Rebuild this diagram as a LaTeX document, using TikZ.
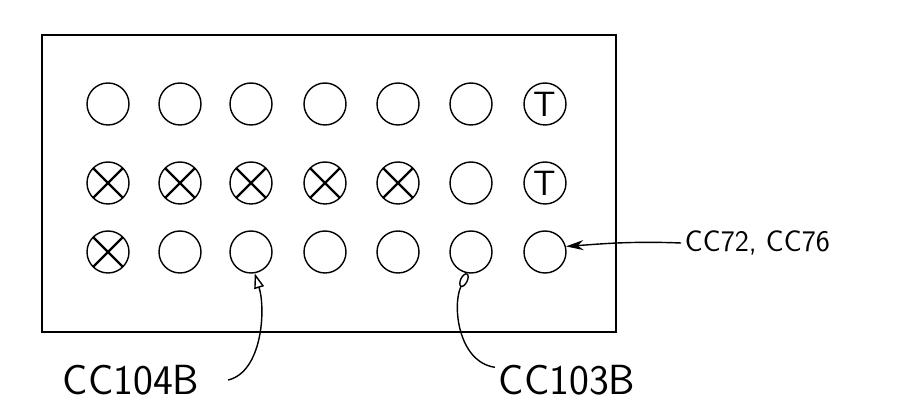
\documentclass[tikz,border=0pt]{standalone}
\usepackage{fontspec}
\usetikzlibrary{arrows.meta}

\begin{document}
\begin{tikzpicture}[
    x=0.02cm, y=-0.02cm,
    every node/.style={font=\sffamily},
    hole/.style={draw, circle, line width=0.8pt, minimum size=0.84cm, inner sep=0pt},
    xhole/.style={hole, path picture={\draw[line width=1.4pt]
        (path picture bounding box.north west) -- (path picture bounding box.south east)
        (path picture bounding box.north east) -- (path picture bounding box.south west);}},
    thole/.style={hole, font=\sffamily\fontsize{20}{20}\selectfont},
    tag/.style={font=\sffamily\fontsize{24}{26}\selectfont\addfontfeature{LetterSpace=7}, inner sep=2pt},
    lead/.style={line width=0.8pt}
]
    \useasboundingbox (0,0) rectangle (899,408);
    \draw[line width=0.8pt] (42,35) rectangle (616,332);

    % top row
    \node[hole] (h11) at (108,104) {};
    \node[hole] (h12) at (180,104) {};
    \node[hole] (h13) at (251,104) {};
    \node[hole] (h14) at (325,104) {};
    \node[hole] (h15) at (398,104) {};
    \node[hole] (h16) at (471,104) {};
    \node[thole] (h17) at (545,104) {T};

    % middle row
    \node[xhole] (h21) at (108,183) {};
    \node[xhole] (h22) at (180,183) {};
    \node[xhole] (h23) at (251,183) {};
    \node[xhole] (h24) at (325,183) {};
    \node[xhole] (h25) at (398,183) {};
    \node[hole] (h26) at (471,183) {};
    \node[thole] (h27) at (545,183) {T};

    % bottom row
    \node[xhole] (h31) at (108,252) {};
    \node[hole] (h32) at (180,252) {};
    \node[hole] (h33) at (251,252) {};
    \node[hole] (h34) at (325,252) {};
    \node[hole] (h35) at (398,252) {};
    \node[hole] (h36) at (471,252) {};
    \node[hole] (h37) at (545,252) {};

    \node[tag] (l104) at (131,380) {CC104B};
    \node[tag] (l103) at (567,380) {CC103B};
    \node[tag, font=\sffamily\fontsize{17}{19}\selectfont, anchor=west] (l72) at (681,243) {CC72, CC76};

    \draw[lead, -{Triangle[open, length=3mm, width=2mm]}] ([xshift=0.5cm]l104.east) .. controls (262,372) and (266,310) .. (h33.-80);
    \draw[lead, -{Ellipse[open, length=3mm, width=1.6mm]}] (l103.170) .. controls (458,362) and (452,305) .. (h36.-100);
    \draw[lead, -{Stealth[length=3.5mm, width=2mm]}] (l72.west) .. controls (630,241) and (600,244) .. (h37.15);
\end{tikzpicture}
\end{document}
